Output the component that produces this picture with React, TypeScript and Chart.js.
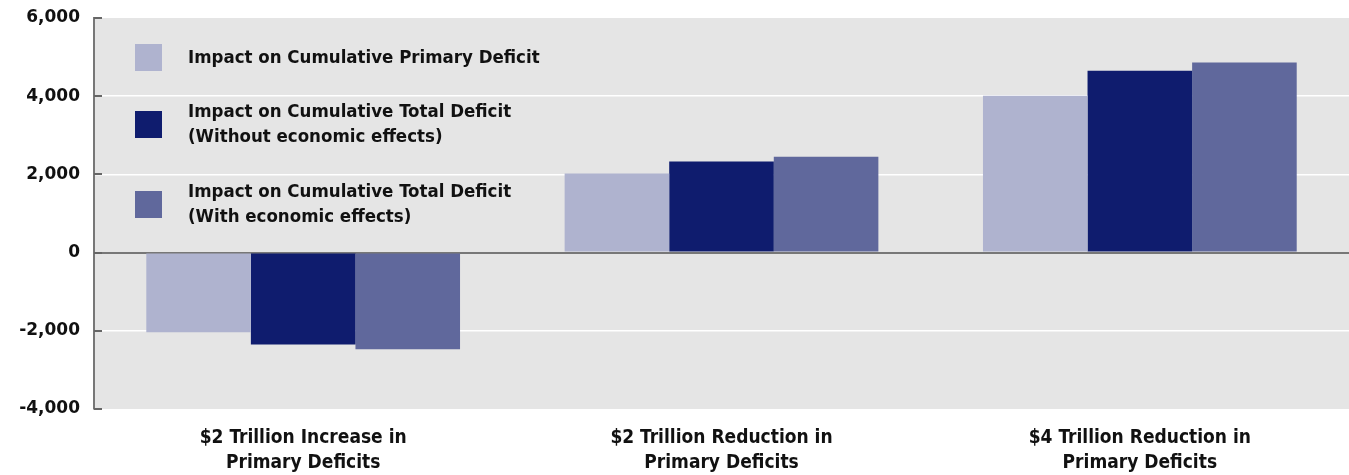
import React, { useEffect, useRef } from "react";
import { Chart, registerables } from "chart.js";

Chart.register(...registerables);

const categories: string[][] = [
  ["$2 Trillion Increase in", "Primary Deficits"],
  ["$2 Trillion Reduction in", "Primary Deficits"],
  ["$4 Trillion Reduction in", "Primary Deficits"],
];
const primaryDeficit = [-2040, 2020, 4010];
const totalWithout = [-2350, 2330, 4650];
const totalWith = [-2470, 2450, 4860];
const seriesLabels: string[][] = [
  ["Impact on Cumulative Primary Deficit"],
  ["Impact on Cumulative Total Deficit", "(Without economic effects)"],
  ["Impact on Cumulative Total Deficit", "(With economic effects)"],
];
const colors = ["#AFB3CF", "#0F1C6E", "#60689C"];

const condensed = "'Liberation Sans Narrow', 'DejaVu Sans Condensed', 'Arial Narrow', sans-serif";

const bgPlugin = {
  id: "bgPlugin",
  beforeDraw(chart: any) {
    const { ctx, chartArea } = chart;
    ctx.save();
    ctx.fillStyle = "#E5E5E5";
    ctx.fillRect(chartArea.left, chartArea.top, chartArea.right - chartArea.left, chartArea.bottom - chartArea.top);
    ctx.restore();
  },
};

const tickMarkPlugin = {
  id: "tickMarkPlugin",
  afterDraw(chart: any) {
    const { ctx, chartArea } = chart;
    const y = chart.scales.y;
    ctx.save();
    ctx.strokeStyle = "#666666";
    ctx.lineWidth = 2;
    y.ticks.forEach((t: any) => {
      const py = Math.round(y.getPixelForValue(t.value));
      ctx.beginPath();
      ctx.moveTo(chartArea.left, py);
      ctx.lineTo(chartArea.left + 8, py);
      ctx.stroke();
    });
    ctx.restore();
  },
};

const legendPlugin = {
  id: "legendPlugin",
  afterDraw(chart: any) {
    const { ctx } = chart;
    const boxX = 135;
    const textX = 188;
    const rows = [
      { box: 44, lines: [58] },
      { box: 111, lines: [112, 137] },
      { box: 191, lines: [192, 217] },
    ];
    ctx.save();
    ctx.font = `bold 18.5px ${condensed}`;
    ctx.textBaseline = "middle";
    ctx.textAlign = "left";
    rows.forEach((r, i) => {
      ctx.fillStyle = colors[i];
      ctx.fillRect(boxX, r.box, 27, 27);
      ctx.fillStyle = "#111111";
      seriesLabels[i].forEach((t, j) => ctx.fillText(t, textX, r.lines[j]));
    });
    ctx.restore();
  },
};

export default function App() {
  const ref = useRef<HTMLCanvasElement>(null);
  useEffect(() => {
    document.body.style.margin = "0";
    const chart = new Chart(ref.current!, {
      type: "bar",
      data: {
        labels: categories as any,
        datasets: [
          { label: seriesLabels[0].join(" "), data: primaryDeficit, backgroundColor: colors[0] },
          { label: seriesLabels[1].join(" "), data: totalWithout, backgroundColor: colors[1] },
          { label: seriesLabels[2].join(" "), data: totalWith, backgroundColor: colors[2] },
        ],
      },
      options: {
        animation: false,
        responsive: false,
        maintainAspectRatio: false,
        layout: { padding: { top: 18, right: 0, left: 0, bottom: 0 } },
        datasets: { bar: { barPercentage: 1, categoryPercentage: 0.75 } },
        plugins: { legend: { display: false }, tooltip: { enabled: false } },
        scales: {
          x: {
            grid: { display: false },
            border: { display: false },
            ticks: {
              color: "#111111",
              font: { family: condensed, size: 19, weight: "bold", lineHeight: 1.3 },
              padding: 9,
              maxRotation: 0,
              autoSkip: false,
            },
            afterFit(scale: any) {
              scale.height = 66;
              scale.paddingLeft = 0;
              scale.paddingRight = 0;
            },
          },
          y: {
            min: -4000,
            max: 6000,
            ticks: {
              stepSize: 2000,
              color: "#111111",
              font: { family: "'DejaVu Sans', sans-serif", size: 17, weight: "bold" },
              padding: 14,
              callback: (v: any) => Number(v).toLocaleString("en-US"),
            },
            grid: {
              color: (c: any) => {
                const v = c.tick?.value;
                if (v === 0) return "#777777";
                if (v === 6000 || v === -4000) return "rgba(0,0,0,0)";
                return "#FFFFFF";
              },
              lineWidth: (c: any) => (c.tick?.value === 0 ? 2 : 1.5),
              drawTicks: false,
              z: 0,
            },
            border: { display: true, color: "#777777", width: 2 },
            afterFit(scale: any) {
              scale.width = 94;
              scale.paddingTop = 0;
              scale.paddingBottom = 0;
            },
          },
        },
      },
      plugins: [bgPlugin, tickMarkPlugin, legendPlugin],
    });
    return () => chart.destroy();
  }, []);
  return (
    <div style={{ position: "fixed", left: 0, top: 0, width: 1349, height: 475, background: "#fff" }}>
      <canvas ref={ref} width={1349} height={475} style={{ width: 1349, height: 475 }} />
    </div>
  );
}
